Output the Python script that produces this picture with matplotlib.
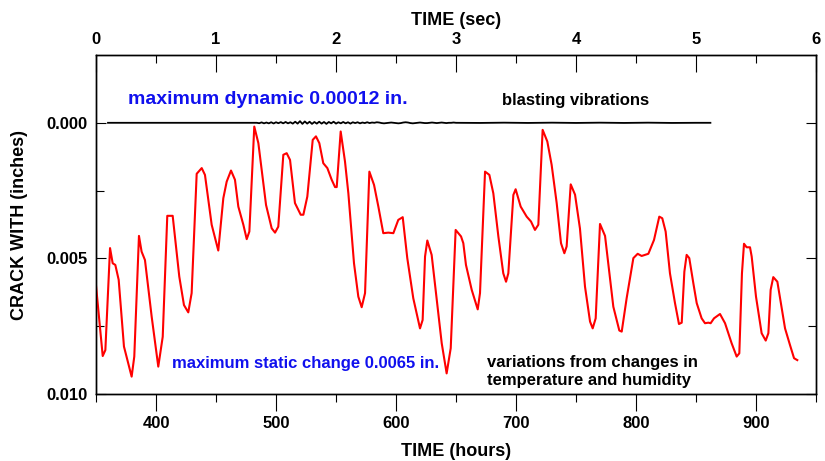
import numpy as np
import matplotlib
matplotlib.use("Agg")
import matplotlib.pyplot as plt
from matplotlib.ticker import MultipleLocator, FixedLocator

plt.rcParams['font.family'] = ['Liberation Sans', 'DejaVu Sans']
plt.rcParams['font.weight'] = 'bold'

# ---- crack width over time (hours, inches) ----
hours = [350, 355.6, 357.8, 361.7, 363.9, 366.1, 368.9, 373.3, 379.7, 381.9,
         385.8, 388, 390.8, 396.4, 401.9, 405.6, 409.4, 413.9, 419.4, 423.3,
         426.9, 429.7, 433.9, 438.1, 440.8, 446.4, 451.9, 456.1, 458.9, 462.5,
         465.8, 468.6, 472.8, 475.6, 477.8, 481.9, 485.3, 491.7, 496.4, 499.2,
         501.9, 506.1, 508.9, 511.7, 515.8, 520.6, 522.8, 526.1, 530.6, 533.3,
         536.1, 539.4, 542.8, 546.4, 549.2, 550.6, 553.9, 557.5, 560.3, 565,
         568.6, 571.4, 574.2, 577.8, 581.7, 585.3, 589.4, 593.6, 597.8, 601.9,
         605.6, 609.4, 614.4, 620, 622.2, 624.2, 626.1, 629.7, 638.1, 642.2,
         645.6, 649.7, 654.2, 656.1, 658.3, 663.1, 668.1, 670, 674.2, 677.8,
         681.1, 685.3, 689.4, 691.7, 693.6, 697.8, 699.7, 703.9, 708.9, 712.5,
         715.8, 718.6, 722.2, 726.1, 729.7, 733.9, 737.5, 740.3, 742.2, 745.6,
         749.2, 753.3, 757.5, 761.7, 763.9, 766.4, 770, 774.2, 776.9, 781.1,
         786.1, 788.1, 792.2, 797.8, 801.4, 804.7, 810.3, 815, 819.4, 821.9,
         824.7, 828.3, 832.5, 835.8, 838.1, 840.3, 842.2, 844.4, 847.8, 850.6,
         854.7, 857.5, 860.3, 862.2, 865, 870, 874.2, 879.7, 883.9, 886.1,
         888.3, 890, 892.2, 895, 896.4, 900, 904.7, 908.1, 910.3, 912.2,
         914.4, 917.8, 924.2, 928.3, 931.7, 934.4]
crack_milli = [6.0, 8.6, 8.38, 4.62, 5.18, 5.24, 5.79, 8.25, 9.36, 8.62,
               4.17, 4.75, 5.06, 7.15, 8.99, 7.89, 3.43, 3.43, 5.67, 6.72,
               6.99, 6.28, 1.88, 1.67, 1.92, 3.76, 4.71, 2.78, 2.17, 1.76,
               2.10, 3.09, 3.76, 4.29, 4.01, 0.14, 0.75, 3.03, 3.89, 4.05,
               3.83, 1.18, 1.12, 1.37, 2.96, 3.39, 3.39, 2.72, 0.63, 0.50,
               0.75, 1.49, 1.67, 2.10, 2.37, 2.37, 0.32, 1.43, 2.60, 5.18,
               6.41, 6.80, 6.28, 1.80, 2.29, 3.09, 4.07, 4.05, 4.07, 3.58,
               3.48, 4.99, 6.47, 7.58, 7.27, 4.93, 4.34, 4.87, 8.13, 9.24,
               8.31, 3.95, 4.19, 4.44, 5.24, 6.16, 6.88, 6.28, 1.80, 1.92,
               2.60, 4.19, 5.55, 5.86, 5.55, 2.66, 2.45, 3.09, 3.46, 3.64,
               3.95, 3.76, 0.26, 0.69, 1.55, 2.96, 4.44, 4.81, 4.56, 2.27,
               2.65, 3.90, 6.04, 7.33, 7.58, 7.21, 3.73, 4.17, 5.18, 6.78,
               7.66, 7.70, 6.47, 4.99, 4.83, 4.91, 4.83, 4.32, 3.46, 3.52,
               4.01, 5.55, 6.65, 7.42, 7.37, 5.49, 4.87, 4.99, 5.92, 6.65,
               7.21, 7.39, 7.37, 7.39, 7.21, 7.05, 7.39, 8.13, 8.62, 8.50,
               5.55, 4.46, 4.59, 4.59, 4.93, 6.41, 7.76, 8.03, 7.76, 6.16,
               5.69, 5.86, 7.58, 8.19, 8.68, 8.75]
crack = np.array(crack_milli) * 1e-3

# ---- blasting vibration trace (seconds, 1e-5 inches) ----
vib_sec = [0.10, 1.32, 1.34, 1.36, 1.38, 1.40, 1.42, 1.44, 1.46, 1.48, 1.50,
           1.52, 1.54, 1.56, 1.58, 1.60, 1.62, 1.64, 1.66, 1.68, 1.70,
           1.72, 1.74, 1.76, 1.78, 1.80, 1.82, 1.84, 1.86, 1.88, 1.90,
           1.92, 1.94, 1.96, 1.98, 2.00, 2.02, 2.04, 2.06, 2.08, 2.10,
           2.12, 2.14, 2.16, 2.18, 2.20, 2.22, 2.24, 2.26, 2.28, 2.30,
           2.32, 2.34, 2.36, 2.38, 2.40, 2.42, 2.44, 2.46, 2.48, 2.50,
           2.52, 2.54, 2.56, 2.58, 2.60, 2.62, 2.64, 2.66, 2.68, 2.70,
           2.72, 2.74, 2.76, 2.78, 2.80, 2.82, 2.84, 2.86, 2.88, 2.90,
           2.92, 2.94, 2.96, 2.98, 3.00, 3.20, 3.40, 3.60, 3.80, 4.00,
           4.20, 4.40, 4.60, 4.80, 5.00, 5.12]
vib_e5 = [0, 0, 0, 1.5, -1.5, 2, -1, 2, -2, 2.5, -2,
          1.5, -2.5, 2, -3, 2, -2, 3, -4, 3, -6,
          4, -5, 3, -4, 4, -3, 3, -4, 3, -3,
          4, -3, 2, -4, 3, -2, 2, -3, 2, -2,
          3, -2, 1, -2, 2, -1, 1, -2, 1, -1,
          0, -2, -1, 1, 2, 1, 0, -1, 0, 1,
          2, 1, -1, -2, -1, 1, 2, 1, 0, -1,
          0, 1, 1, 0, -1, 0, 1, 0, -1, 0,
          1, 0, 0, -1, 0, 0.5, -0.5, 0.5, -0.5, 0.5,
          -0.5, 0.5, -0.5, 0.5, 0, 0]
vib = np.array(vib_e5) * 1e-5

xtick_hours = [400, 500, 600, 700, 800, 900]
xtick_sec = [0, 1, 2, 3, 4, 5, 6]
ytick_vals = [0.0, 0.005, 0.010]
ytick_labels = ['0.000', '0.005', '0.010']

W, H = 825, 461
fig = plt.figure(figsize=(W / 100, H / 100), dpi=100)
L, R, T, B = 96, 816, 55, 394
ax = fig.add_axes([L / W, 1 - B / H, (R - L) / W, (B - T) / H])

ax.plot(hours, crack, color='#ff0000', lw=1.5, zorder=3)
ax.set_xlim(350, 950)
ax.set_ylim(0.010, -0.0025)

ax.xaxis.set_major_locator(FixedLocator(xtick_hours))
ax.xaxis.set_minor_locator(MultipleLocator(50))
ax.set_xticklabels([str(v) for v in xtick_hours])
ax.yaxis.set_major_locator(FixedLocator(ytick_vals))
ax.set_yticklabels(ytick_labels)
ax.yaxis.set_minor_locator(FixedLocator([0.0025, 0.0075]))

ax.tick_params(axis='x', which='major', direction='out', length=12.5, width=0.8,
               labelsize=12, pad=3, top=False)
ax.tick_params(axis='x', which='minor', direction='out', length=6, width=0.8, top=False)
ax.tick_params(axis='y', which='major', direction='in', length=7, width=0.8,
               labelsize=12, pad=6, right=True)
ax.tick_params(axis='y', which='minor', direction='in', length=6, width=0.8, right=True)

ax.set_xlabel('TIME (hours)', fontsize=13, fontweight='bold')
ax.xaxis.set_label_coords(0.5, -0.145)
ax.set_ylabel('CRACK WITH (inches)', fontsize=13, fontweight='bold')
ax.yaxis.set_label_coords(-0.094, 0.5)

ax2 = ax.twiny()
ax2.plot(vib_sec, vib, color='black', lw=1.3, zorder=4)
ax2.set_xlim(0, 6)
ax2.xaxis.set_major_locator(FixedLocator(xtick_sec))
ax2.set_xticklabels([str(v) for v in xtick_sec])
ax2.xaxis.set_minor_locator(MultipleLocator(0.5))
ax2.tick_params(axis='x', which='major', direction='in', length=12.5, width=0.8,
                labelsize=12, pad=6)
ax2.tick_params(axis='x', which='minor', direction='in', length=6, width=0.8)
ax2.set_xlabel('TIME (sec)', fontsize=13, fontweight='bold')
ax2.xaxis.set_label_coords(0.5, 1.0885)

for a in (ax, ax2):
    for s in a.spines.values():
        s.set_linewidth(1.0)

def ftext(x, y, s, color='black', size=12):
    fig.text(x / W, 1 - y / H, s, color=color, fontsize=size, fontweight='bold',
             ha='left', va='center')

ftext(128, 99, 'maximum dynamic 0.00012 in.', color='#1010ee', size=14)
ftext(502, 100, 'blasting vibrations')
ftext(172, 363, 'maximum static change 0.0065 in.', color='#1010ee')
ftext(487, 362, 'variations from changes in')
ftext(487, 381, 'temperature and humidity')

fig.savefig('out.png', dpi=100)
